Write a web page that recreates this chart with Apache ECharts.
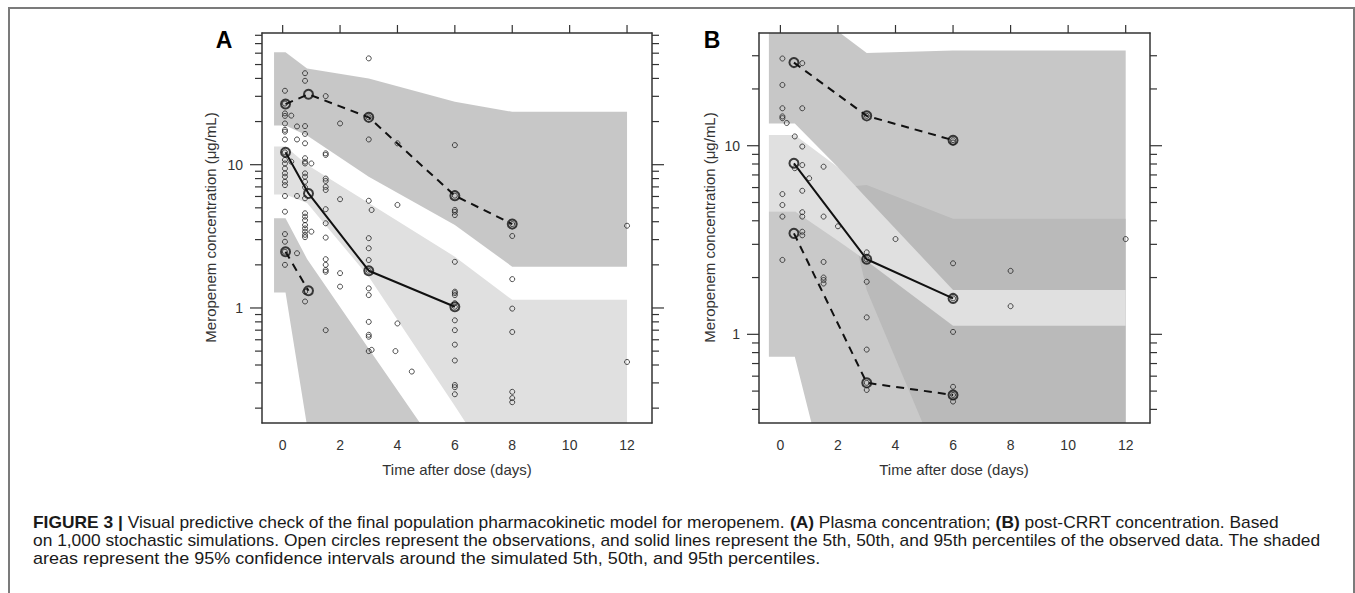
<!DOCTYPE html>
<html><head><meta charset="utf-8">
<script src="https://cdn.jsdelivr.net/npm/echarts@6/dist/echarts.min.js"></script>
<style>html,body{margin:0;padding:0;background:#fff}#c{width:1355px;height:593px}</style>
</head><body><div id="c"></div>
<script>
// ---------------- data ----------------
const xTicks = [0, 2, 4, 6, 8, 10, 12];
const yMajorTicks = [1, 10];
const yMinorTicksA = [0.2,0.3,0.4,0.5,0.6,0.7,0.8,0.9,2,3,4,5,6,7,8,9,20,30,40,50,60,70,80];
const yMinorTicksB = [0.4,0.5,0.6,0.7,0.8,0.9,2,3,4,5,6,7,8,9,20,30];

// Panel A simulated confidence bands
const bandXA  = [-0.3, 0.1, 0.85, 3, 6, 8, 12];
const ci95HiA = [60.8, 60.8, 47, 40, 27.5, 23.4, 23.4];
const ci95LoA = [18.8, 18.8, 16.0, 8.25, 3.8, 1.94, 1.94];
const ci50HiA = [13.4, 13.4, 10.0, 5.4, 2.28, 1.14, 1.14];
const ci50LoA = [6.2, 6.2, 5.4, 1.65, 0.207, 0.05, 0.05];
const ci5HiA  = [4.23, 4.23, 2.2, 0.52, 0.07, 0.05, 0.05];
const ci5LoA  = [1.28, 1.28, 0.15, 0.02, 0.02, 0.02, 0.02];

// Panel B simulated confidence bands
const bandXB  = [-0.4, 0.5, 2, 3, 6, 12];
const ci95HiB = [60, 60, 40.4, 31, 32, 32];
const ci95LoB = [13.1, 13.1, 7.7, 1.72, 0.14, 0.14];
const ci50HiB = [11.4, 11.4, 7.7, 5.26, 1.72, 1.72];
const ci50LoB = [4.5, 4.5, 3.13, 2.45, 1.11, 1.11];
const ci5HiB  = [4.5, 4.5, 6.0, 6.2, 4.1, 4.1];
const ci5LoB  = [0.76, 0.76, 0.094, 0.03, 0.02, 0.02];

// Observed percentiles
const obsP95A = [[0.1,26.5],[0.9,31],[3,21.4],[6,6.08],[8,3.85]];
const obsP50A = [[0.1,12.2],[0.9,6.3],[3,1.82],[6,1.02]];
const obsP5A  = [[0.1,2.47],[0.9,1.32]];
const obsP95B = [[0.47,27.6],[3,14.4],[6,10.7]];
const obsP50B = [[0.47,8.07],[3,2.5],[6,1.55]];
const obsP5B  = [[0.47,3.43],[3,0.553],[6,0.477]];

// Observations [time, concentration]
const obsA = [
 [0.08,32.8],[0.08,26.7],[0.08,22.8],[0.08,21.9],[0.08,19.4],[0.08,17.5],[0.08,17.0],[0.08,15.0],[0.08,12.2],
 [0.08,10.8],[0.08,10.2],[0.08,9.4],[0.08,8.7],[0.08,8.25],[0.08,7.6],[0.08,7.2],[0.08,6.05],[0.08,4.7],
 [0.08,3.28],[0.08,2.9],[0.08,2.47],[0.08,2.0],
 [0.3,22],[0.3,10.5],
 [0.5,18.5],[0.5,15.0],[0.5,6.05],[0.5,2.41],
 [0.78,43.5],[0.78,38.5],[0.78,18.6],[0.78,16.4],[0.78,14.1],[0.78,11.1],[0.78,10.5],[0.78,10.2],[0.78,8.7],
 [0.78,8.25],[0.78,7.6],[0.78,6.95],[0.78,5.83],[0.78,4.58],[0.78,4.34],[0.78,4.1],[0.78,3.79],[0.78,3.59],
 [0.78,3.41],[0.78,3.24],[0.78,3.12],[0.78,1.3],[0.78,1.11],
 [1.0,10.2],[1.0,3.41],
 [1.5,30.1],[1.5,12.0],[1.5,11.7],[1.5,8.0],[1.5,7.7],[1.5,7.0],[1.5,6.66],[1.5,4.89],[1.5,3.9],[1.5,3.1],
 [1.5,2.19],[1.5,2.0],[1.5,1.84],[1.5,1.79],[1.5,0.70],
 [2.0,19.4],[2.0,5.74],[2.0,1.75],[2.0,1.41],
 [3.0,55.2],[3.0,21.4],[3.0,15.0],[3.0,5.6],[3.0,3.07],[3.0,2.61],[3.0,2.16],[3.0,1.82],[3.0,1.37],[3.0,1.23],
 [3.0,0.80],[3.0,0.65],[3.0,0.63],[3.0,0.50],
 [3.1,4.83],[3.1,0.51],[3.93,0.50],
 [4.0,14.1],[4.0,5.24],[4.0,0.78],[4.5,0.36],
 [6.0,13.7],[6.0,6.08],[6.0,4.83],[6.0,4.69],[6.0,4.45],[6.0,2.1],[6.0,1.30],[6.0,1.27],[6.0,1.23],[6.0,1.08],
 [6.0,1.02],[6.0,0.82],[6.0,0.70],[6.0,0.555],[6.0,0.43],[6.0,0.29],[6.0,0.28],[6.0,0.25],
 [8.0,3.85],[8.0,3.18],[8.0,1.59],[8.0,0.99],[8.0,0.68],[8.0,0.26],[8.0,0.235],[8.0,0.22],
 [12,3.75],[12,0.42]
];
const obsB = [
 [0.07,29.0],[0.07,21.0],[0.07,15.8],[0.07,14.3],[0.07,14.0],[0.07,5.54],[0.07,4.85],[0.07,4.21],[0.07,2.48],
 [0.22,13.2],
 [0.5,11.2],[0.5,7.6],
 [0.76,27.4],[0.76,15.8],[0.76,9.9],[0.76,7.9],[0.76,5.77],[0.76,4.44],[0.76,4.21],[0.76,3.5],[0.76,3.35],
 [1.0,6.72],
 [1.5,7.74],[1.5,4.21],[1.5,2.42],[1.5,2.0],[1.5,1.94],[1.5,1.86],
 [2.0,3.74],
 [3.0,14.4],[3.0,2.72],[3.0,2.5],[3.0,1.90],[3.0,1.23],[3.0,0.83],[3.0,0.553],[3.0,0.507],
 [4.0,3.2],
 [6.0,10.7],[6.0,10.4],[6.0,2.38],[6.0,1.55],[6.0,1.03],[6.0,0.527],[6.0,0.477],[6.0,0.44],
 [8.0,2.17],[8.0,1.41],
 [12,3.2]
];

// ---------------- helpers ----------------
const FONT = '"Liberation Sans", Arial, Helvetica, sans-serif';
const INK = '#333';
const TICK_FONT = '14px "Liberation Sans", Arial, sans-serif';

function bandSeries(xs, lo, hi, fill, ax, z) {
  return {
    type: 'custom', xAxisIndex: ax, yAxisIndex: ax, z: z, silent: true, clip: true, animation: false,
    data: xs.map((x, i) => [x, lo[i], hi[i]]),
    renderItem(params, api) {
      if (params.dataIndex !== 0) return null;
      const top = xs.map((x, i) => api.coord([x, hi[i]]));
      const bot = xs.map((x, i) => api.coord([x, lo[i]])).reverse();
      const cs = params.coordSys;
      return {
        type: 'polygon', shape: { points: top.concat(bot) }, style: { fill: fill, stroke: null },
        clipPath: { type: 'rect', shape: { x: cs.x, y: cs.y, width: cs.width, height: cs.height } }
      };
    }
  };
}

function xTickSeries(ax) {
  return {
    type: 'custom', xAxisIndex: ax, yAxisIndex: ax, z: 12, silent: true, clip: false, animation: false,
    data: xTicks.map(v => [v, 1]),
    renderItem(params, api) {
      const v = api.value(0);
      const px = api.coord([v, 1])[0];
      const cs = params.coordSys;
      return { type: 'group', children: [
        { type: 'line', shape: { x1: px, y1: cs.y, x2: px, y2: cs.y - 8 }, style: { stroke: INK, lineWidth: 1.2 } },
        { type: 'text', x: px, y: cs.y + cs.height + 22,
          style: { text: String(v), align: 'center', verticalAlign: 'middle', textAlign: 'center', textVerticalAlign: 'middle',
                   font: TICK_FONT, fill: INK } }
      ]};
    }
  };
}

function yTickSeries(ax, ticks, major) {
  const len = major ? 12 : 7;
  return {
    type: 'custom', xAxisIndex: ax, yAxisIndex: ax, z: 12, silent: true, clip: false, animation: false,
    data: ticks.map(v => [0, v]),
    renderItem(params, api) {
      const v = api.value(1);
      const py = api.coord([0, v])[1];
      const cs = params.coordSys;
      const ch = [
        { type: 'line', shape: { x1: cs.x - len, y1: py, x2: cs.x, y2: py }, style: { stroke: INK, lineWidth: 1.2 } },
        { type: 'line', shape: { x1: cs.x + cs.width, y1: py, x2: cs.x + cs.width + len, y2: py }, style: { stroke: INK, lineWidth: 1.2 } }
      ];
      if (major) ch.push({ type: 'text', x: cs.x - 19, y: py,
        style: { text: String(v), align: 'right', verticalAlign: 'middle', textAlign: 'right', textVerticalAlign: 'middle',
                 font: TICK_FONT, fill: INK } });
      return { type: 'group', children: ch };
    }
  };
}

function lineSeries(data, ax, dashed) {
  return { type: 'line', xAxisIndex: ax, yAxisIndex: ax, data: data, showSymbol: false, z: 6, silent: true, animation: false,
           lineStyle: { color: '#111', width: 2, type: dashed ? [8, 6] : 'solid' } };
}
function binSeries(data, ax) {
  return { type: 'scatter', xAxisIndex: ax, yAxisIndex: ax, data: data, symbol: 'circle', symbolSize: 9, z: 8, silent: true, animation: false,
           itemStyle: { color: 'rgba(0,0,0,0)', borderColor: '#111', borderWidth: 2 } };
}
function obsSeries(data, ax) {
  return { type: 'scatter', xAxisIndex: ax, yAxisIndex: ax, data: data, symbol: 'circle', symbolSize: 5, z: 7, silent: true, animation: false,
           itemStyle: { color: 'rgba(0,0,0,0)', borderColor: '#222', borderWidth: 1 } };
}

function axisCommon(extra) {
  return Object.assign({
    axisLine: { show: true, onZero: false, lineStyle: { color: INK, width: 1.5 } },
    axisTick: { show: false }, axisLabel: { show: false }, splitLine: { show: false },
    minorTick: { show: false }, minorSplitLine: { show: false }, z: 10
  }, extra);
}

// ---------------- caption measurement ----------------
const CAP_SIZE = 16;
const mctx = document.createElement('canvas').getContext('2d');
function mw(t, bold) { mctx.font = (bold ? 'bold ' : '') + CAP_SIZE + 'px "Liberation Sans"'; return mctx.measureText(t).width; }

const cap1 = [['FIGURE 3 |', true], [' Visual predictive check of the final population pharmacokinetic model for meropenem. ', false],
              ['(A)', true], [' Plasma concentration; ', false], ['(B)', true], [' post-CRRT concentration. Based', false]];
const cap2 = 'on 1,000 stochastic simulations. Open circles represent the observations, and solid lines represent the 5th, 50th, and 95th percentiles of the observed data. The shaded';
const cap3 = 'areas represent the 95% confidence intervals around the simulated 5th, 50th, and 95th percentiles.';

const w1 = cap1.reduce((s, p) => s + mw(p[0], p[1]), 0);
const w2 = mw(cap2, false), w3 = mw(cap3, false);
const rich1 = cap1.map(p => '{' + (p[1] ? 'b' : 'n') + '|' + p[0] + '}').join('');
const richStyles = {
  b: { fontWeight: 'bold', fontSize: CAP_SIZE, fontFamily: '"Liberation Sans"', fill: '#1a1a1a', color: '#1a1a1a' },
  n: { fontWeight: 'normal', fontSize: CAP_SIZE, fontFamily: '"Liberation Sans"', fill: '#1a1a1a', color: '#1a1a1a' }
};

function capText(text, y, natural, target, rich) {
  const st = { text: text, font: CAP_SIZE + 'px "Liberation Sans"', fill: '#1a1a1a', align: 'left', verticalAlign: 'middle',
               textAlign: 'left', textVerticalAlign: 'middle' };
  if (rich) st.rich = rich;
  return { type: 'text', x: 33, y: y, scaleX: target / natural, scaleY: 1, style: st, silent: true };
}

// ---------------- chart ----------------
const chart = echarts.init(document.getElementById('c'), null, { renderer: 'svg' });
const option = {
  backgroundColor: '#fff',
  animation: false,
  textStyle: { fontFamily: FONT },
  grid: [
    { left: 262, top: 33, width: 390, height: 390, outerBoundsMode: 'none', containLabel: false },
    { left: 759, top: 33, width: 391, height: 390, outerBoundsMode: 'none', containLabel: false }
  ],
  xAxis: [
    axisCommon({ gridIndex: 0, type: 'value', min: -0.72, max: 12.87, position: 'bottom' }),
    axisCommon({ gridIndex: 0, type: 'value', min: -0.72, max: 12.87, position: 'top' }),
    axisCommon({ gridIndex: 1, type: 'value', min: -0.744, max: 12.845, position: 'bottom' }),
    axisCommon({ gridIndex: 1, type: 'value', min: -0.744, max: 12.845, position: 'top' })
  ],
  yAxis: [
    axisCommon({ gridIndex: 0, type: 'log', logBase: 10, min: 0.1575, max: 83.0, position: 'left' }),
    axisCommon({ gridIndex: 0, type: 'log', logBase: 10, min: 0.1575, max: 83.0, position: 'right' }),
    axisCommon({ gridIndex: 1, type: 'log', logBase: 10, min: 0.3387, max: 39.6, position: 'left' }),
    axisCommon({ gridIndex: 1, type: 'log', logBase: 10, min: 0.3387, max: 39.6, position: 'right' })
  ],
  series: [
    // Panel A
    bandSeries(bandXA, ci5LoA, ci5HiA, '#c9c9c9', 0, 1),
    bandSeries(bandXA, ci95LoA, ci95HiA, 'rgba(180,180,180,0.75)', 0, 2),
    bandSeries(bandXA, ci50LoA, ci50HiA, '#e0e0e0', 0, 3),
    lineSeries(obsP95A, 0, true), lineSeries(obsP50A, 0, false), lineSeries(obsP5A, 0, true),
    obsSeries(obsA, 0),
    binSeries(obsP95A, 0), binSeries(obsP50A, 0), binSeries(obsP5A, 0),
    xTickSeries(0), yTickSeries(0, yMajorTicks, true), yTickSeries(0, yMinorTicksA, false),
    // Panel B
    bandSeries(bandXB, ci5LoB, ci5HiB, '#c9c9c9', 2, 1),
    bandSeries(bandXB, ci95LoB, ci95HiB, 'rgba(180,180,180,0.75)', 2, 2),
    bandSeries(bandXB, ci50LoB, ci50HiB, '#e0e0e0', 2, 3),
    lineSeries(obsP95B, 2, true), lineSeries(obsP50B, 2, false), lineSeries(obsP5B, 2, true),
    obsSeries(obsB, 2),
    binSeries(obsP95B, 2), binSeries(obsP50B, 2), binSeries(obsP5B, 2),
    xTickSeries(2), yTickSeries(2, yMajorTicks, true), yTickSeries(2, yMinorTicksB, false)
  ],
  graphic: [
    { type: 'rect', shape: { x: 9, y: 8, width: 1345, height: 640 }, style: { fill: 'none', stroke: '#7b7b7b', lineWidth: 2 }, silent: true, z: 0 },
    { type: 'text', x: 224, y: 40, style: { text: 'A', font: 'bold 23px "Liberation Sans"', fill: '#000', align: 'center', verticalAlign: 'middle', textAlign: 'center', textVerticalAlign: 'middle' } },
    { type: 'text', x: 712, y: 40, style: { text: 'B', font: 'bold 23px "Liberation Sans"', fill: '#000', align: 'center', verticalAlign: 'middle', textAlign: 'center', textVerticalAlign: 'middle' } },
    { type: 'text', x: 210, y: 227.5, rotation: Math.PI / 2, style: { text: 'Meropenem concentration (μg/mL)', font: '15px "Liberation Sans"', fill: INK, align: 'center', verticalAlign: 'middle', textAlign: 'center', textVerticalAlign: 'middle' } },
    { type: 'text', x: 709, y: 227.5, rotation: Math.PI / 2, style: { text: 'Meropenem concentration (μg/mL)', font: '15px "Liberation Sans"', fill: INK, align: 'center', verticalAlign: 'middle', textAlign: 'center', textVerticalAlign: 'middle' } },
    { type: 'text', x: 457, y: 469, style: { text: 'Time after dose (days)', font: '15px "Liberation Sans"', fill: INK, align: 'center', verticalAlign: 'middle', textAlign: 'center', textVerticalAlign: 'middle' } },
    { type: 'text', x: 954, y: 469, style: { text: 'Time after dose (days)', font: '15px "Liberation Sans"', fill: INK, align: 'center', verticalAlign: 'middle', textAlign: 'center', textVerticalAlign: 'middle' } },
    capText(rich1, 523, w1, 1279 - 33, richStyles),
    capText(cap2, 541, w2, 1322 - 33, null),
    capText(cap3, 559, w3, 821 - 33, null)
  ]
};
chart.setOption(option);
</script>
</body></html>
